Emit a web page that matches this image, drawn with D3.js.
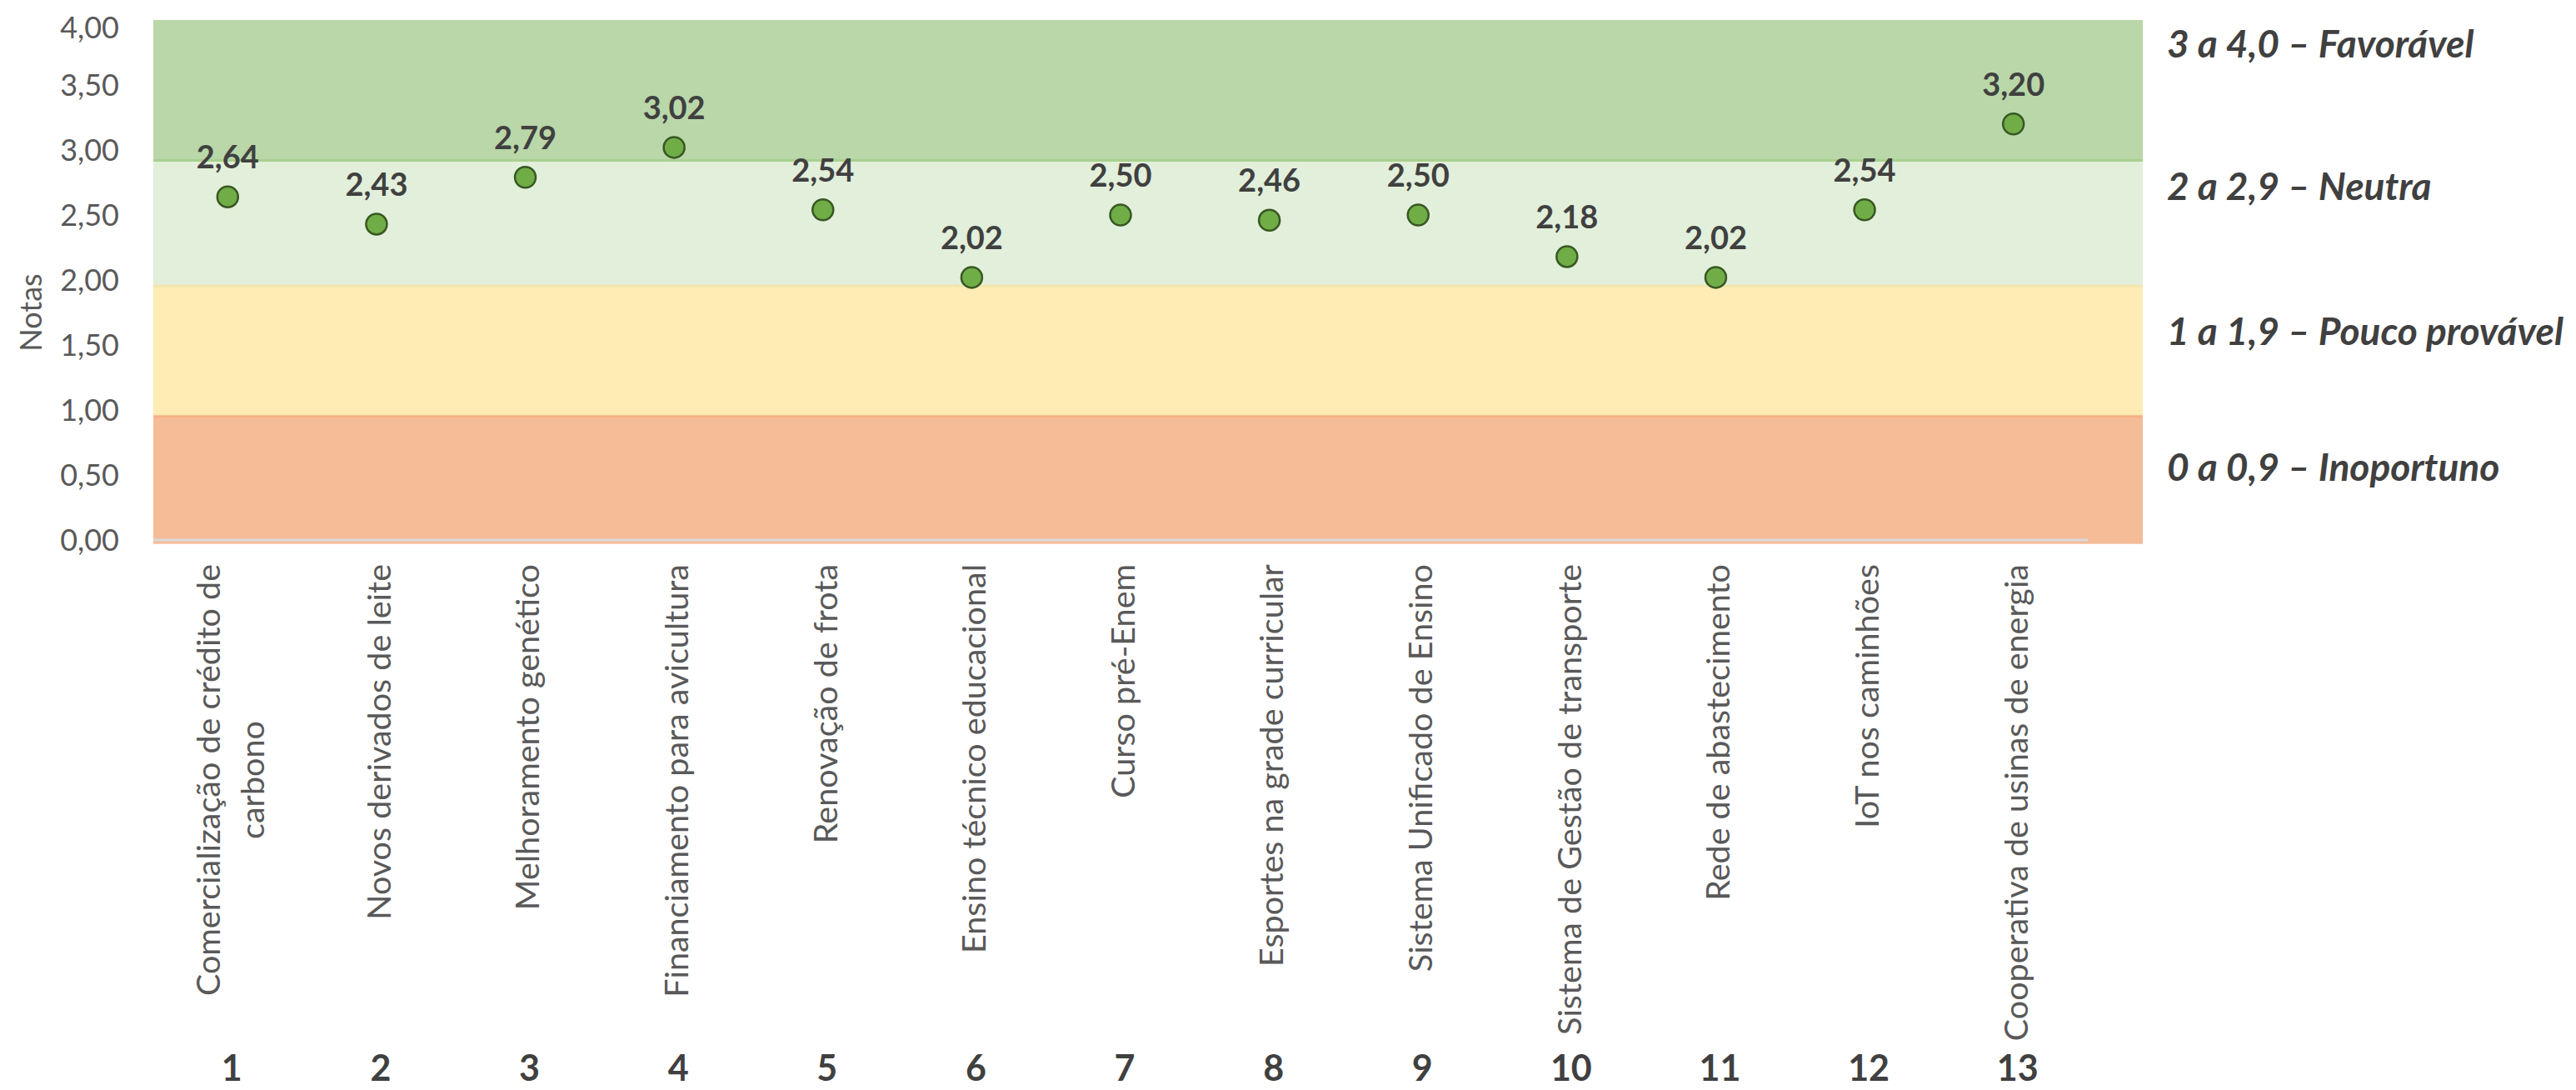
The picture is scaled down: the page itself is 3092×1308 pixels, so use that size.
<!DOCTYPE html>
<html><head><meta charset="utf-8">
<script src="https://cdn.jsdelivr.net/npm/d3@7"></script>
<style>body{margin:0;background:#fff}svg{display:block}</style>
</head><body>
<svg id="c" width="3092" height="1308"></svg>
<script>
const categories = [
  ["Comercialização de crédito de","carbono"],
  ["Novos derivados de leite"],
  ["Melhoramento genético"],
  ["Financiamento para avicultura"],
  ["Renovação de frota"],
  ["Ensino técnico educacional"],
  ["Curso pré-Enem"],
  ["Esportes na grade curricular"],
  ["Sistema Unificado de Ensino"],
  ["Sistema de Gestão de transporte"],
  ["Rede de abastecimento"],
  ["IoT nos caminhões"],
  ["Cooperativa de usinas de energia"]
];
const numbers = ["1","2","3","4","5","6","7","8","9","10","11","12","13"];
const values = [2.64,2.43,2.79,3.02,2.54,2.02,2.50,2.46,2.50,2.18,2.02,2.54,3.20];
const yTicks = [0,0.5,1,1.5,2,2.5,3,3.5,4];
const bandBreaks = [-0.03,0.95,1.955,2.92,4.0];
const bandColors = ["#f5bc98","#ffebb4","#e2efda","#b9d7a8"];
const bandLabels = ["0 a 0,9 – Inoportuno","1 a 1,9 – Pouco provável","2 a 2,9 – Neutra","3 a 4,0 – Favorável"];

const svg = d3.select("#c");
const left = 184, right = 2506, bandRight = 2572;
const y = d3.scaleLinear().domain([0,4]).range([648,24]);
const x = d3.scaleBand().domain(d3.range(categories.length)).range([left,right]);
const cx = i => x(i) + x.bandwidth()/2;
const fmt = v => d3.format(".2f")(v).replace(".",",");

// bands
const bands = bandColors.map((c,i)=>({c, lo:bandBreaks[i], hi:bandBreaks[i+1], label:bandLabels[i]}));
svg.append("g").selectAll("rect").data(bands).join("rect")
  .attr("x",left).attr("width",bandRight-left)
  .attr("y",d=>y(d.hi)).attr("height",d=>y(d.lo)-y(d.hi))
  .attr("fill",d=>d.c);
// band boundary lines
const lineCols = ["#f4b183","#f3e6b0","#a9d18e"];
svg.append("g").selectAll("line").data(bandBreaks.slice(1,4)).join("line")
  .attr("x1",left).attr("x2",bandRight)
  .attr("y1",d=>y(d)).attr("y2",d=>y(d))
  .attr("stroke",(d,i)=>lineCols[i]).attr("stroke-width",3);

// x axis line
svg.append("line").attr("x1",left).attr("x2",right).attr("y1",y(0)).attr("y2",y(0))
  .attr("stroke","#d9d9d9").attr("stroke-width",3);

// y tick labels
svg.append("g").selectAll("text").data(yTicks).join("text")
  .attr("x",143).attr("y",d=>Math.max(y(d),33))
  .attr("text-anchor","end").attr("dy","0.35em")
  .attr("font-family","Lato").attr("font-size",36).attr("fill","#595959")
  .text(fmt);

// y title
svg.append("text").attr("transform","translate(50,375) rotate(-90)")
  .attr("text-anchor","middle").attr("font-family","Lato").attr("font-size",36)
  .attr("fill","#595959").text("Notas");

// points
svg.append("g").selectAll("circle").data(values).join("circle")
  .attr("cx",(d,i)=>cx(i)).attr("cy",d=>y(d)).attr("r",12.5)
  .attr("fill","#70ad47").attr("stroke","#385723").attr("stroke-width",2.5);

// value labels
svg.append("g").selectAll("text").data(values).join("text")
  .attr("x",(d,i)=>cx(i)).attr("y",d=>y(d)-34)
  .attr("text-anchor","middle").attr("font-family","Lato").attr("font-weight","bold")
  .attr("font-size",38).attr("fill","#404040").text(fmt);

// category labels
const catG = svg.append("g");
categories.forEach((lines,i)=>{
  const g = catG.append("g");
  const ts = lines.map((t,j)=>g.append("text").attr("font-family","Lato").attr("font-size",39.5)
      .attr("fill","#595959").attr("text-anchor","middle").text(t));
  const maxLen = d3.max(ts, t=>t.node().getComputedTextLength());
  const n = lines.length, lh = 53;
  ts.forEach((t,j)=>{
    const px = cx(i) + 3 + (j-(n-1)/2)*lh;
    t.attr("transform",`translate(${px},${677+maxLen/2}) rotate(-90)`).attr("dy","0.35em");
  });
});

// category numbers
svg.append("g").selectAll("text").data(numbers).join("text")
  .attr("x",(d,i)=>cx(i)+5).attr("y",1297)
  .attr("text-anchor","middle").attr("font-family","Lato").attr("font-weight","bold")
  .attr("font-size",43).attr("fill","#404040").text(d=>d);

// band labels (legend on right)
const labelY = [560,397,223,52];
svg.append("g").selectAll("text").data(bands).join("text")
  .attr("x",2601).attr("y",(d,i)=>labelY[i]).attr("dy","0.36em")
  .attr("font-family","Lato").attr("font-weight","bold").attr("font-style","italic")
  .attr("font-size",46).attr("fill","#404040").text(d=>d.label);
</script>
</body></html>
